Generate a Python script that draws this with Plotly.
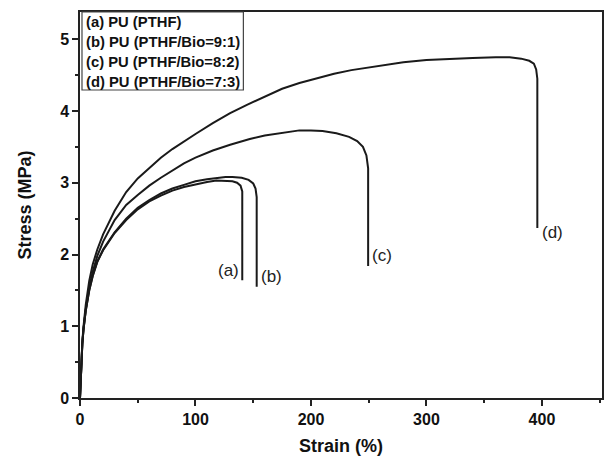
import plotly.graph_objects as go

# Strain (%) / Stress (MPa)
strain_a = [0, 0.5, 1, 2, 3, 5, 8, 11, 15, 20, 30, 40, 50, 60, 70, 80, 90, 100, 110, 118, 126, 132, 136, 139, 140.5, 140.5]
stress_a = [0, 0.25, 0.47, 0.75, 0.95, 1.22, 1.5, 1.7, 1.9, 2.06, 2.3, 2.48, 2.63, 2.74, 2.82, 2.89, 2.94, 2.98, 3.01, 3.03, 3.03, 3.02, 3.0, 2.96, 2.88, 1.64]

strain_b = [0, 0.5, 1, 2, 3, 5, 8, 11, 15, 20, 30, 40, 50, 60, 70, 80, 90, 100, 110, 118, 126, 132, 140, 146, 150, 152, 153, 153]
stress_b = [0, 0.25, 0.47, 0.75, 0.95, 1.22, 1.5, 1.7, 1.9, 2.07, 2.31, 2.5, 2.65, 2.76, 2.85, 2.92, 2.97, 3.02, 3.05, 3.07, 3.08, 3.08, 3.07, 3.04, 2.99, 2.92, 2.8, 1.55]

strain_c = [0, 0.5, 1, 2, 3, 5, 8, 11, 15, 20, 30, 40, 50, 60, 70, 80, 90, 100, 115, 130, 147, 160, 175, 190, 200, 210, 222, 233, 240, 245, 248, 249.5, 249.5]
stress_c = [0, 0.25, 0.47, 0.76, 0.96, 1.24, 1.54, 1.76, 1.98, 2.18, 2.48, 2.69, 2.83, 2.96, 3.07, 3.17, 3.27, 3.35, 3.45, 3.53, 3.61, 3.66, 3.70, 3.73, 3.73, 3.72, 3.69, 3.64, 3.58, 3.5, 3.38, 3.2, 1.84]

strain_d = [0, 0.5, 1, 2, 3, 5, 8, 11, 15, 20, 30, 40, 50, 60, 70, 80, 90, 100, 115, 130, 145, 160, 175, 190, 205, 220, 235, 250, 265, 280, 300, 320, 340, 360, 372, 382, 389, 393, 395, 396, 396]
stress_d = [0, 0.25, 0.48, 0.78, 0.99, 1.3, 1.63, 1.86, 2.07, 2.28, 2.61, 2.87, 3.06, 3.21, 3.35, 3.47, 3.58, 3.68, 3.83, 3.97, 4.09, 4.2, 4.31, 4.39, 4.46, 4.52, 4.57, 4.61, 4.65, 4.68, 4.71, 4.73, 4.74, 4.75, 4.75, 4.73, 4.7, 4.66, 4.58, 4.45, 2.37]

series = [("a", strain_a, stress_a), ("b", strain_b, stress_b),
          ("c", strain_c, stress_c), ("d", strain_d, stress_d)]

legend_lines = ["(a) PU (PTHF)", "(b) PU (PTHF/Bio=9:1)",
                "(c) PU (PTHF/Bio=8:2)", "(d) PU (PTHF/Bio=7:3)"]

curve_labels = ["(a)", "(b)", "(c)", "(d)"]
label_x = [139, 155, 251.5, 398]
label_y = [1.78, 1.69, 1.99, 2.30]
label_anchor = ["right", "left", "left", "left"]

x_ticks = [0, 100, 200, 300, 400]
y_ticks = [0, 1, 2, 3, 4, 5]

FONT = "Liberation Sans, Arial, sans-serif"

fig = go.Figure()
for name, xs, ys in series:
    fig.add_trace(go.Scatter(x=xs, y=ys, mode="lines", name=name,
                             line=dict(color="#1a1a1a", width=2), showlegend=False))

for txt, lx, ly, anc in zip(curve_labels, label_x, label_y, label_anchor):
    fig.add_annotation(x=lx, y=ly, text=txt, showarrow=False, xanchor=anc,
                       yanchor="middle",
                       font=dict(family=FONT, size=17, color="#222"))

# legend box (text only)
plot_h = 465 - 12 - 67
fig.add_shape(type="rect", xref="paper", yref="paper",
              x0=2 / 524, x1=164 / 524, y0=1 - 78 / plot_h, y1=1.0,
              line=dict(color="#444", width=1.2), fillcolor="white", layer="above")
for i, line in enumerate(legend_lines):
    yc = 1 - (9.7 + 20.2 * i) / plot_h
    fig.add_annotation(xref="paper", yref="paper", x=4 / 524, y=yc, xanchor="left",
                       yanchor="middle", text="<b>%s</b>" % line, showarrow=False,
                       font=dict(family=FONT, size=14.8, color="#111"))

axis_font = dict(family=FONT, size=16, color="#111")
title_font = dict(family=FONT, size=18, color="#111")

fig.update_xaxes(range=[0, 452], tickvals=x_ticks, ticktext=["<b>%d</b>" % v for v in x_ticks],
                 ticks="outside", ticklen=6, tickwidth=1.5, tickcolor="#222",
                 minor=dict(dtick=50, tick0=0, ticks="outside", ticklen=3, tickwidth=1.5, tickcolor="#222"),
                 showline=True, linecolor="#222", linewidth=1.5, mirror=True,
                 showgrid=False, zeroline=False, tickfont=axis_font,
                 title=dict(text="<b>Strain (%)</b>", font=title_font, standoff=12))
fig.update_yaxes(range=[0, 5.38], tickvals=y_ticks, ticktext=["<b>%d</b>" % v for v in y_ticks],
                 ticks="outside", ticklen=6, tickwidth=1.5, tickcolor="#222",
                 minor=dict(dtick=0.5, tick0=0, ticks="outside", ticklen=3, tickwidth=1.5, tickcolor="#222"),
                 showline=True, linecolor="#222", linewidth=1.5, mirror=True,
                 showgrid=False, zeroline=False, tickfont=axis_font,
                 title=dict(text="<b>Stress (MPa)</b>", font=title_font, standoff=24))

fig.update_layout(width=608, height=465, margin=dict(l=80, r=4, t=12, b=67),
                  plot_bgcolor="white", paper_bgcolor="white")

fig.write_html("out.html")
